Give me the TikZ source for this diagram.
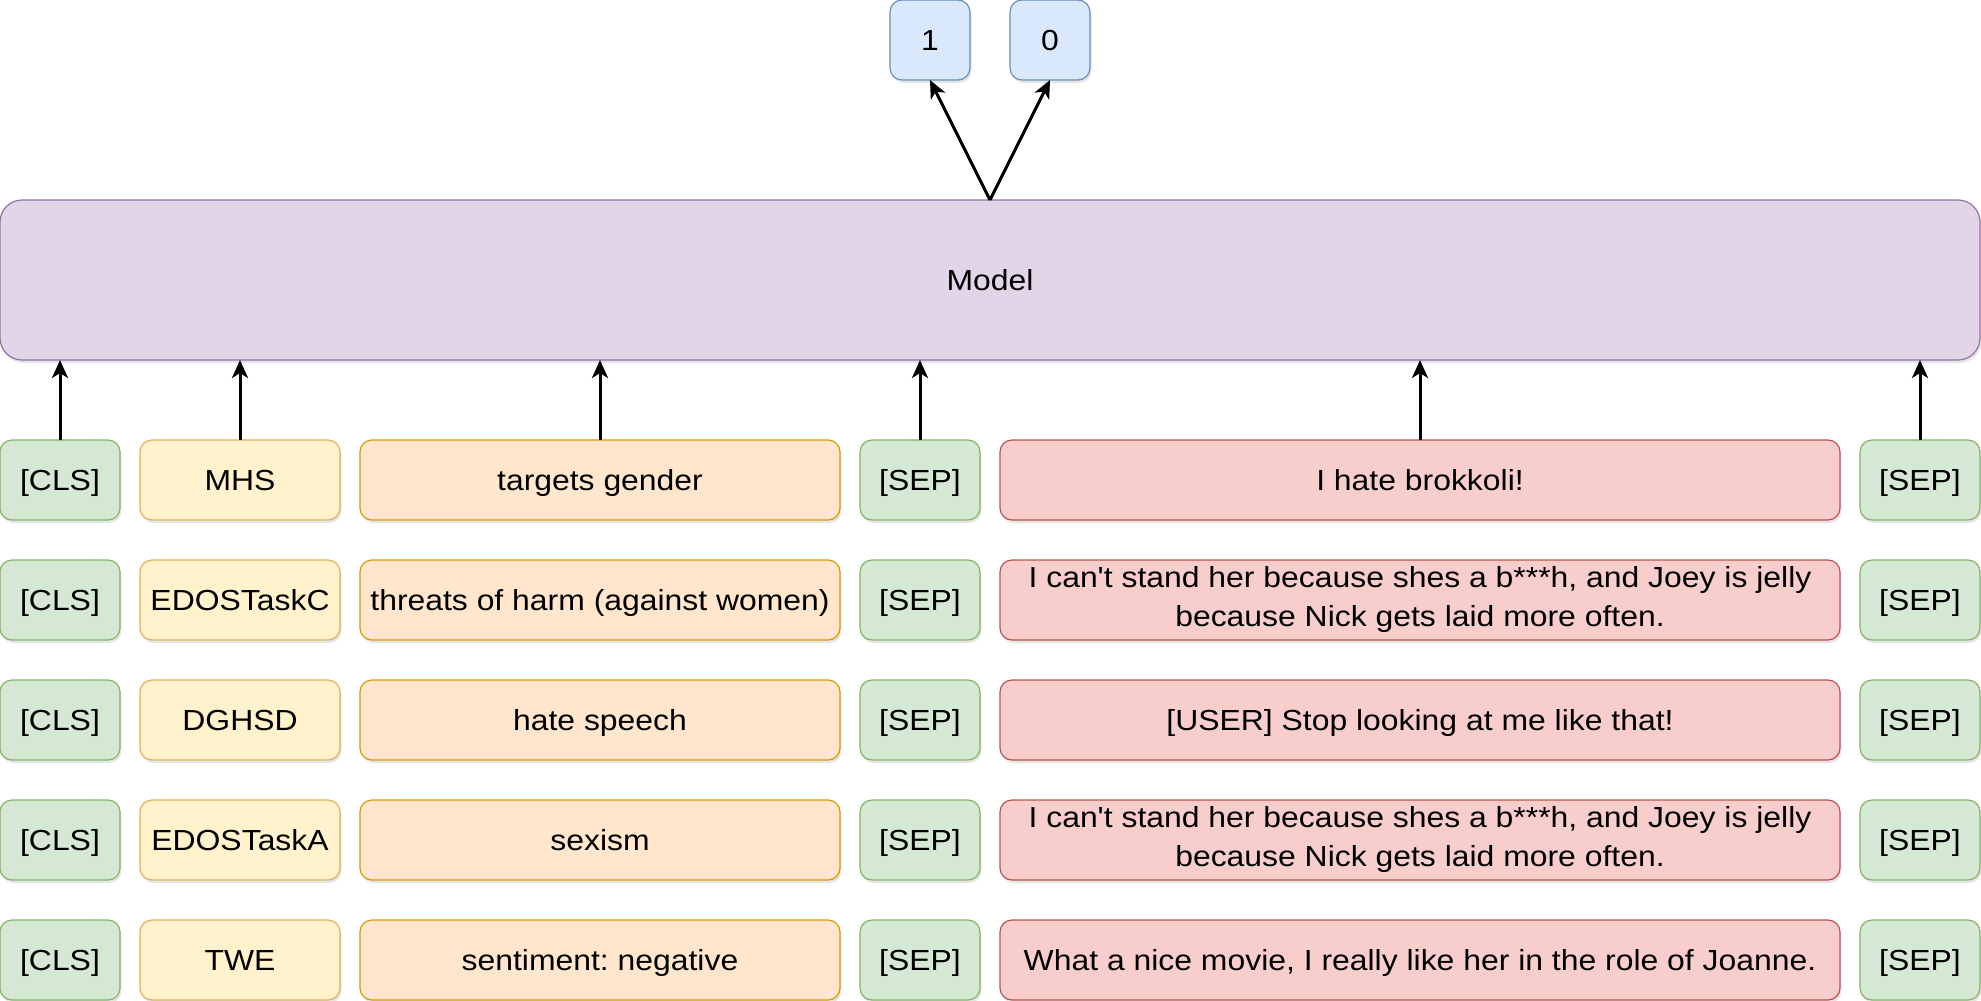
\documentclass[tikz,border=0pt]{standalone}
\usepackage{fontspec}
\setmainfont{Liberation Sans}[Ligatures=TeXOff, FakeStretch=1.1]
\usetikzlibrary{arrows.meta,shadows}
\definecolor{gfill}{HTML}{D5E8D4}\definecolor{gline}{HTML}{82B366}
\definecolor{yfill}{HTML}{FFF2CC}\definecolor{yline}{HTML}{D6B656}
\definecolor{ofill}{HTML}{FFE6CC}\definecolor{oline}{HTML}{D79B00}
\definecolor{rfill}{HTML}{F8CECC}\definecolor{rline}{HTML}{B85450}
\definecolor{pfill}{HTML}{E1D5E7}\definecolor{pline}{HTML}{9673A6}
\definecolor{bfill}{HTML}{DAE8FC}\definecolor{bline}{HTML}{6C8EBF}
\tikzset{
  box/.style={draw, rounded corners=12pt, line width=1.2pt, minimum height=80pt,
    inner sep=0pt, outer sep=0pt, align=center, text=black,
    font=\fontsize{29}{38.3}\selectfont\frenchspacing,
    execute at begin node=\rule{0pt}{28pt},
    execute at end node=\rule[-7pt]{0pt}{7pt},
    drop shadow={shadow xshift=1.5pt, shadow yshift=-3pt, opacity=0.10, fill=black}},
  greenbox/.style={box, fill=gfill, draw=gline, minimum width=120pt},
  yellowbox/.style={box, fill=yfill, draw=yline, minimum width=200pt},
  orangebox/.style={box, fill=ofill, draw=oline, minimum width=480pt},
  redbox/.style={box, fill=rfill, draw=rline, minimum width=840pt},
  bluebox/.style={box, fill=bfill, draw=bline, minimum width=80pt},
  modelbox/.style={box, fill=pfill, draw=pline, minimum width=1980pt, minimum height=160pt, rounded corners=22pt},
  arr/.style={line width=3pt, -{Stealth[length=18pt, width=16pt, inset=5pt]}}
}
\begin{document}
\begin{tikzpicture}[x=1pt,y=-1pt]
\useasboundingbox (0,0) rectangle (1981,1001);
\node[bluebox] (one) at (930,40) {1};
\node[bluebox] (zero) at (1050,40) {0};
\node[modelbox] (model) at (990,280) {Model};
\foreach \r/\ds/\lab/\txt in {
  1/MHS/targets gender/I hate brokkoli!,
  2/EDOSTaskC/threats of harm (against women)/{I can't stand her because shes a b***h, and Joey is jelly\\because Nick gets laid more often.},
  3/DGHSD/hate speech/[USER] Stop looking at me like that!,
  4/EDOSTaskA/sexism/{I can't stand her because shes a b***h, and Joey is jelly\\because Nick gets laid more often.},
  5/TWE/sentiment: negative/{What a nice movie, I really like her in the role of Joanne.}}{
  \pgfmathsetmacro\yy{360+120*\r}
  \node[greenbox] (cls\r) at (60,\yy) {[CLS]};
  \node[yellowbox] (ds\r) at (240,\yy) {\ds};
  \node[orangebox] (lab\r) at (600,\yy) {\lab};
  \node[greenbox] (sepa\r) at (920,\yy) {[SEP]};
  \node[redbox] (txt\r) at (1420,\yy) {\txt};
  \node[greenbox] (sepb\r) at (1920,\yy) {[SEP]};
}
\foreach \n in {cls1,ds1,lab1,sepa1,txt1,sepb1}
  \draw[arr] (\n.north) -- (\n.north |- model.south);
\draw[arr] (model.north) -- (one.south);
\draw[arr] (model.north) -- (zero.south);
\end{tikzpicture}
\end{document}
